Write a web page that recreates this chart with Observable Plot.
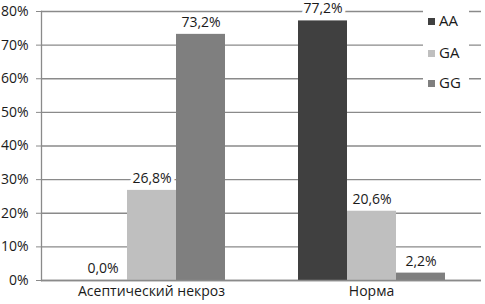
<!DOCTYPE html>
<html>
<head>
<meta charset="utf-8">
<script src="https://cdn.jsdelivr.net/npm/d3@7"></script>
<script src="https://cdn.jsdelivr.net/npm/@observablehq/plot@0.6"></script>
<style>
  html, body { margin: 0; padding: 0; background: #fff; }
  #wrap { position: relative; width: 485px; height: 304px; }
  #legend { position: absolute; left: 423px; top: 7px; width: 46px; height: 88px; background: #fff;
    font-family: "Open Sans", sans-serif; font-size: 15px; color: #1a1a1a; }
  .item { position: absolute; left: 0; height: 16px; line-height: 16px; white-space: nowrap; }
  .sw { display: inline-block; width: 7px; height: 7px; margin-left: 5px; margin-right: 4px; vertical-align: 1px; }
</style>
</head>
<body>
<div id="wrap"><div id="legend"></div></div>
<script>
const categories = ["Асептический некроз", "Норма"];
const genotypes = ["AA", "GA", "GG"];
const AA = [0.0, 77.2];
const GA = [26.8, 20.6];
const GG = [73.2, 2.2];
const yTicks = [0, 10, 20, 30, 40, 50, 60, 70, 80];
const colors = ["#404040", "#bfbfbf", "#7f7f7f"];

const series = [AA, GA, GG];
const data = categories.flatMap((c, i) => genotypes.map((g, j) => ({cat: c, g, v: series[j][i]})));
const fmt = v => v.toFixed(1).replace(".", ",") + "%";

const chart = Plot.plot({
  width: 485, height: 304,
  marginLeft: 41, marginRight: 4, marginTop: 11, marginBottom: 24,
  style: {fontFamily: "Open Sans, sans-serif", fontSize: "14px", color: "#1a1a1a", background: "#fff", overflow: "visible"},
  fx: {domain: categories, padding: 0, label: null, axis: null},
  x: {domain: genotypes, paddingInner: 0, paddingOuter: 0.7, axis: null},
  y: {domain: [0, 80], label: null, axis: null},
  color: {domain: genotypes, range: colors},
  marks: [
    Plot.gridY(yTicks, {stroke: "#8a8a8a", strokeOpacity: 1, strokeWidth: 1.3}),
    Plot.axisY(yTicks, {tickFormat: d => d + "%", tickSize: 5, tickPadding: 8, stroke: "#8a8a8a", fill: "#1a1a1a", label: null, fontSize: 14}),
    Plot.frame({anchor: "left", facetAnchor: "left", stroke: "#8a8a8a", strokeWidth: 1.3}),
    Plot.barY(data, {fx: "cat", x: "g", y: "v", fill: "g"}),
    Plot.ruleY([0], {stroke: "#8a8a8a", strokeWidth: 1.3}),
    Plot.text(data, {fx: "cat", x: "g", y: "v", text: d => fmt(d.v), dy: -12, fill: "#1a1a1a", stroke: "#fff", strokeWidth: 7, fontSize: 14}),
    Plot.axisFx({anchor: "bottom", tickSize: 0, tickPadding: 6, label: null, fontSize: 14, fill: "#1a1a1a"})
  ]
});
document.getElementById("wrap").prepend(chart);

const legend = document.getElementById("legend");
const tops = [5, 37, 67];
genotypes.forEach((g, i) => {
  const it = document.createElement("div");
  it.className = "item";
  it.style.top = tops[i] + "px";
  it.innerHTML = `<span class="sw" style="background:${colors[i]}"></span>${g}`;
  legend.appendChild(it);
});
</script>
</body>
</html>
